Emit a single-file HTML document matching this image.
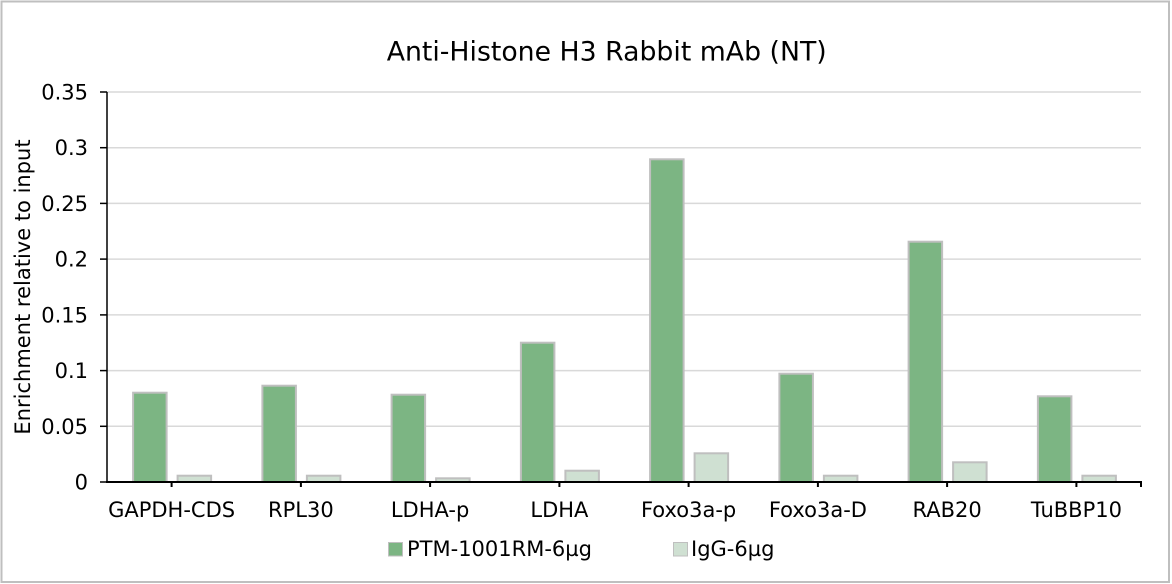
<!DOCTYPE html>
<html><head><meta charset="utf-8"><style>
html,body{margin:0;padding:0;background:#fff;}
svg{display:block;}
text{font-family:"DejaVu Sans","Liberation Sans",sans-serif;fill:#000;}
</style></head><body>
<svg width="1172" height="584" viewBox="0 0 1172 584" xmlns="http://www.w3.org/2000/svg">
<rect x="0" y="0" width="1172" height="584" fill="#fff"/>
<rect x="1.5" y="1.5" width="1167.5" height="580.5" fill="none" stroke="#bfbfbf" stroke-width="2"/>
<text x="386.7" y="60.7" font-size="27" textLength="440" lengthAdjust="spacingAndGlyphs">Anti-Histone H3 Rabbit mAb (NT)</text>
<g stroke="#d9d9d9" stroke-width="1.5">
<line x1="107" x2="1141" y1="426.3" y2="426.3"/>
<line x1="107" x2="1141" y1="370.6" y2="370.6"/>
<line x1="107" x2="1141" y1="314.9" y2="314.9"/>
<line x1="107" x2="1141" y1="259.1" y2="259.1"/>
<line x1="107" x2="1141" y1="203.4" y2="203.4"/>
<line x1="107" x2="1141" y1="147.7" y2="147.7"/>
<line x1="107" x2="1141" y1="92" y2="92"/>
</g>
<g stroke="#bfbfbf" stroke-width="2">
<g fill="#7cb583">
<rect x="133.1" y="392.7" width="33.5" height="89.3"/>
<rect x="262.4" y="385.7" width="33.5" height="96.3"/>
<rect x="391.6" y="394.7" width="33.5" height="87.3"/>
<rect x="520.9" y="342.7" width="33.5" height="139.3"/>
<rect x="650.1" y="159.3" width="33.5" height="322.7"/>
<rect x="779.4" y="373.7" width="33.5" height="108.3"/>
<rect x="908.6" y="241.7" width="33.5" height="240.3"/>
<rect x="1037.9" y="396.3" width="33.5" height="85.7"/>
</g>
<g fill="#cfe0d2">
<rect x="177.6" y="475.7" width="33.5" height="6.3"/>
<rect x="306.9" y="475.7" width="33.5" height="6.3"/>
<rect x="436.1" y="478.3" width="33.5" height="3.7"/>
<rect x="565.4" y="470.7" width="33.5" height="11.3"/>
<rect x="694.6" y="453.3" width="33.5" height="28.7"/>
<rect x="823.9" y="475.7" width="33.5" height="6.3"/>
<rect x="953.1" y="462.3" width="33.5" height="19.7"/>
<rect x="1082.4" y="475.7" width="33.5" height="6.3"/>
</g>
</g>
<g stroke="#000" stroke-width="1.5">
<line x1="107" x2="107" y1="92" y2="482"/>
<line x1="100" x2="107" y1="482" y2="482"/>
<line x1="100" x2="107" y1="426.3" y2="426.3"/>
<line x1="100" x2="107" y1="370.6" y2="370.6"/>
<line x1="100" x2="107" y1="314.9" y2="314.9"/>
<line x1="100" x2="107" y1="259.1" y2="259.1"/>
<line x1="100" x2="107" y1="203.4" y2="203.4"/>
<line x1="100" x2="107" y1="147.7" y2="147.7"/>
<line x1="100" x2="107" y1="92" y2="92"/>
</g>
<line x1="106" x2="1142" y1="482" y2="482" stroke="#000" stroke-width="2"/>
<g stroke="#000" stroke-width="2">
<line x1="171.6" x2="171.6" y1="482" y2="487"/>
<line x1="300.9" x2="300.9" y1="482" y2="487"/>
<line x1="430.1" x2="430.1" y1="482" y2="487"/>
<line x1="559.4" x2="559.4" y1="482" y2="487"/>
<line x1="688.6" x2="688.6" y1="482" y2="487"/>
<line x1="817.9" x2="817.9" y1="482" y2="487"/>
<line x1="947.1" x2="947.1" y1="482" y2="487"/>
<line x1="1076.4" x2="1076.4" y1="482" y2="487"/>
<line x1="1141" x2="1141" y1="482" y2="487"/>
</g>
<g font-size="21" text-anchor="end">
<text x="88" y="489.5">0</text>
<text x="88" y="433.8">0.05</text>
<text x="88" y="378.1">0.1</text>
<text x="88" y="322.4">0.15</text>
<text x="88" y="266.6">0.2</text>
<text x="88" y="210.9">0.25</text>
<text x="88" y="155.2">0.3</text>
<text x="88" y="99.5">0.35</text>
</g>
<text transform="translate(30,287) rotate(-90)" font-size="21" text-anchor="middle">Enrichment relative to input</text>
<g font-size="21" text-anchor="middle">
<text x="171.6" y="517">GAPDH-CDS</text>
<text x="300.9" y="517">RPL30</text>
<text x="430.1" y="517">LDHA-p</text>
<text x="559.4" y="517">LDHA</text>
<text x="688.6" y="517">Foxo3a-p</text>
<text x="817.9" y="517">Foxo3a-D</text>
<text x="947.1" y="517">RAB20</text>
<text x="1076.4" y="517">TuBBP10</text>
</g>
<rect x="388.5" y="542.5" width="14" height="13.5" fill="#7cb583" stroke="#bfbfbf" stroke-width="1"/>
<text x="407" y="556" font-size="21">PTM-1001RM-6µg</text>
<rect x="673.5" y="542.5" width="14" height="13.5" fill="#cfe0d2" stroke="#bfbfbf" stroke-width="1"/>
<text x="691" y="556" font-size="21">IgG-6µg</text>
</svg>
</body></html>
